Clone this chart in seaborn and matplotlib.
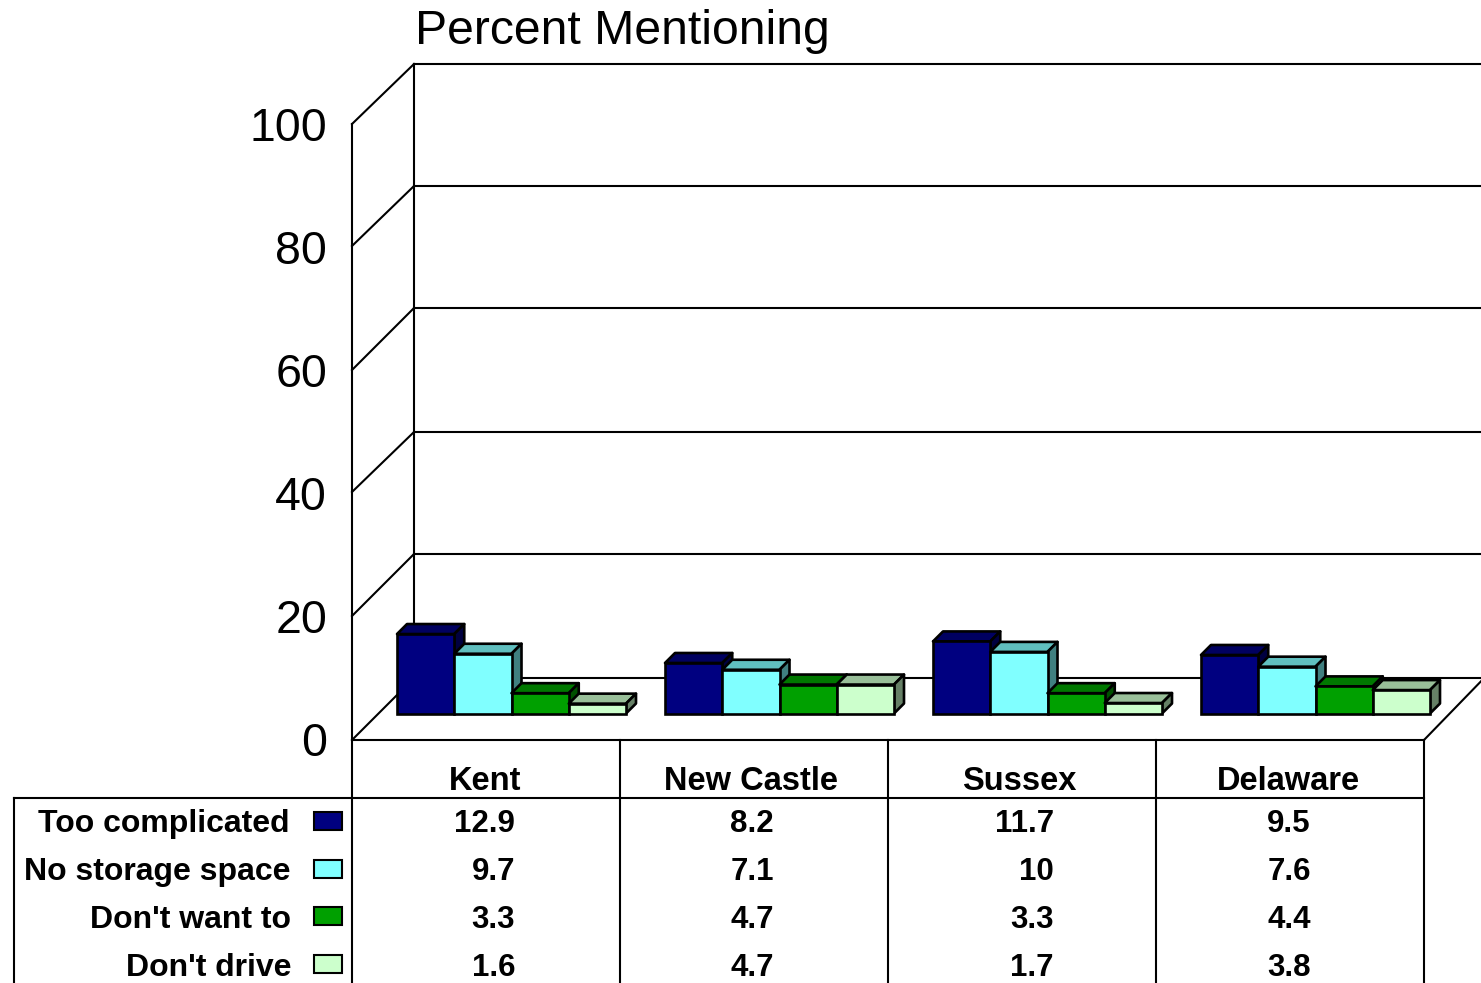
import matplotlib
matplotlib.use("Agg")
import matplotlib.pyplot as plt
from matplotlib.patches import Polygon
from matplotlib.colors import to_rgb
import pandas as pd
import seaborn as sns

# ---- data ----
regions = ["Kent", "New Castle", "Sussex", "Delaware"]
reasons = ["Too complicated", "No storage space", "Don't want to", "Don't drive"]
too_complicated = [12.9, 8.2, 11.7, 9.5]
no_storage = [9.7, 7.1, 10, 7.6]
dont_want = [3.3, 4.7, 3.3, 4.4]
dont_drive = [1.6, 4.7, 1.7, 3.8]
series = [too_complicated, no_storage, dont_want, dont_drive]
colors = ["#000080", "#80FFFF", "#00A000", "#CCFFCC"]
y_ticks = [0, 20, 40, 60, 80, 100]
title = "Percent Mentioning"

W, H = 1481, 983
LW = 1.5
BAR_LW = 1.9
FONT = ["Liberation Sans", "DejaVu Sans"]

sns.set_theme(style="white")
plt.rcParams["font.family"] = FONT

df = pd.DataFrame(
    [{"region": g, "reason": r, "value": v}
     for r, vals in zip(reasons, series) for g, v in zip(regions, vals)]
)

fig = plt.figure(figsize=(W / 100, H / 100), dpi=100, facecolor="white")


def box(left, top, right, bottom):
    return [left / W, 1 - bottom / H, (right - left) / W, (bottom - top) / H]


# frame / table layer in figure pixels
frame = fig.add_axes([0, 0, 1, 1], zorder=0)
frame.set_xlim(0, W)
frame.set_ylim(H, 0)
frame.axis("off")


def line(xs, ys):
    frame.plot(xs, ys, color="black", lw=LW, solid_capstyle="projecting", clip_on=True)


back_y = [678, 554, 432, 308, 186, 64]
wall_y = [740, 616, 492, 370, 246, 124]
for by, wy in zip(back_y, wall_y):
    line([352, 414], [wy, by])
    line([414, W + 5], [by, by])
line([414, 414], [64, 678])
line([352, 352], [124, H + 5])
line([1424, 1490], [740, 672])
line([352, 1424], [740, 740])
line([14, 1424], [798, 798])
line([14, 14], [798, H + 5])
for x in [620, 888, 1156, 1424]:
    line([x, x], [740, H + 5])

# value axis in the front plane
wall = fig.add_axes(box(352, 124, 1424, 739), zorder=1, facecolor="none")
wall.set_ylim(0, 100)
wall.set_xlim(0, 1)
wall.set_yticks(y_ticks)
wall.set_yticklabels([str(t) for t in y_ticks], fontsize=33.5, color="black")
wall.tick_params(axis="y", length=0, pad=18)
wall.set_xticks([])
for s in wall.spines.values():
    s.set_visible(False)

# bars sit in a plane set back from the front of the floor
bars = fig.add_axes(box(377.5, 97.5, 1449.5, 713.5), zorder=2, facecolor="none")
sns.barplot(
    data=df, x="region", y="value", hue="reason",
    order=regions, hue_order=reasons, palette=colors,
    width=229 / 268, gap=0, dodge=True, saturation=1,
    edgecolor="black", linewidth=BAR_LW, legend=False, ax=bars,
)
bars.set_xlim(-0.5, 3.5)
bars.set_ylim(0, 100)
bars.axis("off")

dx = 10 / 268
dy = 10 / 6.16
patches = sorted(bars.patches, key=lambda p: p.get_x())
for i, p in enumerate(patches):
    x0, w, h = p.get_x(), p.get_width(), p.get_height()
    rgb = to_rgb(p.get_facecolor())
    z = 3 + i
    p.set_zorder(z + 0.5)
    p.set_clip_on(False)
    top = Polygon([(x0, h), (x0 + dx, h + dy), (x0 + w + dx, h + dy), (x0 + w, h)],
                  closed=True, facecolor=[c * 0.75 for c in rgb], edgecolor="black",
                  lw=BAR_LW, zorder=z, clip_on=False, joinstyle="round")
    side = Polygon([(x0 + w, 0), (x0 + w + dx, dy), (x0 + w + dx, h + dy), (x0 + w, h)],
                   closed=True, facecolor=[c * 0.5 for c in rgb], edgecolor="black",
                   lw=BAR_LW, zorder=z, clip_on=False, joinstyle="round")
    bars.add_patch(top)
    bars.add_patch(side)

# title
frame.text(415, 32, title, fontsize=34.7, color="black", ha="left", va="center")

# data table
B = dict(fontsize=23, fontweight="bold", color="black", va="center")
H_FONT = dict(B, fontsize=23.5)
V = dict(fontsize=22.5, fontweight="bold", color="black", va="center")
header_x = [485, 751, 1019, 1288]
for x, g in zip(header_x, regions):
    frame.text(x, 781, g, ha="center", **H_FONT)

row_y = [824, 872, 920, 968]
label_x = [289, 291, 291, 291]
swatch = [(812, 830), (860, 878), (907, 925), (955, 973)]
value_x = [515, 774, 1054, 1311]
for r, y in enumerate(row_y):
    frame.text(label_x[r], y, reasons[r], ha="right", **B)
    t, b = swatch[r]
    frame.add_patch(plt.Rectangle((314, t), 28, b - t, facecolor=colors[r],
                                  edgecolor="black", lw=LW))
    for c, x in enumerate(value_x):
        frame.text(x, y, f"{series[r][c]:g}", ha="right", **V)

fig.savefig("out.png", dpi=100, facecolor="white")
